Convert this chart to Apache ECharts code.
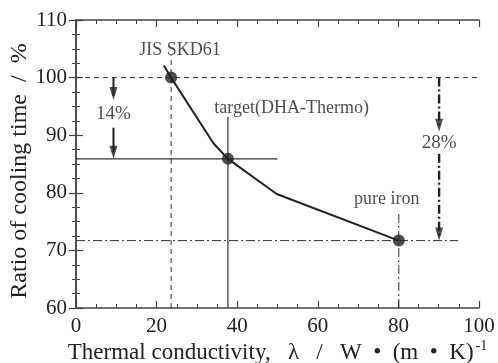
<!DOCTYPE html>
<html><head><meta charset="utf-8">
<script src="https://cdn.jsdelivr.net/npm/echarts@6/dist/echarts.min.js"></script>
<style>html,body{margin:0;padding:0;background:#fff}#c{width:498px;height:363px}</style>
</head><body><div id="c"></div>
<script>
// ---- data ----
const curveX = [21.8, 23.6, 34.1, 37.7, 49.8, 80.1];
const curveY = [102.1, 100, 88.6, 85.9, 79.8, 71.7];
const pointX = [23.6, 37.7, 80.1];
const pointY = [100, 85.9, 71.7];
const pointNames = ['JIS SKD61', 'target(DHA-Thermo)', 'pure iron'];
const nameX = [25.8, 53.5, 77.1];
const nameY = [104.8, 94.6, 78.8];
// reference lines [x1,y1,x2,y2]
const dashedLines = [[0, 100, 100, 100], [23.6, 60, 23.6, 103.9]];
const solidLines = [[0, 85.9, 50, 85.9], [37.7, 60, 37.7, 93.2]];
const dashDotLines = [[0, 71.7, 94.8, 71.7], [80.1, 60, 80.1, 76.6]];
const arrowShafts14 = [[9.3, 100, 9.3, 96.8], [9.3, 91.3, 9.3, 87]];
const arrowShafts28 = [[90.1, 100, 90.1, 91.5], [90.1, 86.8, 90.1, 72.5]];
const arrowTips = [[9.3, 96.1], [9.3, 85.9], [90.1, 90.6], [90.1, 71.7]];
const pctLabels = [[9.3, 93.7, '14%'], [90.1, 88.6, '28%']];
const xTicks = [0, 20, 40, 60, 80, 100];
const yTicks = [60, 70, 80, 90, 100, 110];

const FONT = 'Liberation Serif';
const INK = '#222';
function seg(l, style) {
  return { type: 'line', data: [[l[0], l[1]], [l[2], l[3]]], showSymbol: false, symbol: 'none',
    lineStyle: style, silent: true, z: 2, animation: false };
}
const series = [];
dashedLines.forEach(l => series.push(seg(l, { color: '#333', width: 1, type: [5, 4] })));
solidLines.forEach(l => series.push(seg(l, { color: '#333', width: 1.2, type: 'solid' })));
dashDotLines.forEach(l => series.push(seg(l, { color: '#333', width: 1, type: [9, 3, 2, 3] })));
arrowShafts14.forEach(l => series.push(seg(l, { color: INK, width: 2, type: 'solid' })));
arrowShafts28.forEach(l => series.push(seg(l, { color: INK, width: 2.4, type: [9, 3, 2, 3] })));
series.push({ type: 'line', data: curveX.map((x, i) => [x, curveY[i]]), showSymbol: false, symbol: 'none',
  lineStyle: { color: INK, width: 2 }, z: 3, animation: false });
series.push({ type: 'scatter', data: pointX.map((x, i) => [x, pointY[i]]), symbolSize: 12,
  itemStyle: { color: INK }, z: 4, animation: false });
series.push({ type: 'scatter', data: arrowTips, symbol: 'path://M0,0 L10,0 L5,16 Z', symbolSize: [8, 13],
  symbolOffset: [0, -6.5], itemStyle: { color: INK }, z: 4, animation: false });
series.push({ type: 'scatter', data: nameX.map((x, i) => [x, nameY[i], pointNames[i]]), symbolSize: 0,
  label: { show: true, position: 'inside', formatter: p => p.data[2], fontFamily: FONT, fontSize: 18, color: INK },
  z: 5, animation: false });
series.push({ type: 'scatter', data: pctLabels, symbolSize: 0,
  label: { show: true, position: 'inside', formatter: p => p.data[2], fontFamily: FONT, fontSize: 19, color: INK },
  z: 5, animation: false });

const axisCommon = {
  type: 'value',
  axisLine: { show: true, lineStyle: { color: '#444', width: 1.5 } },
  axisTick: { show: true, inside: true, length: 7, lineStyle: { color: '#444', width: 1.2 } },
  minorTick: { show: true, splitNumber: 4, length: 4, lineStyle: { color: '#444', width: 1 } },
  splitLine: { show: false },
  axisLabel: { fontFamily: FONT, fontSize: 21, color: INK }
};
const option = {
  backgroundColor: '#fff',
  grid: { left: 76, right: 19, top: 20, bottom: 55, containLabel: false, outerBoundsMode: 'none' },
  xAxis: [
    Object.assign({}, axisCommon, { min: xTicks[0], max: xTicks[xTicks.length - 1], interval: 20, position: 'bottom',
      axisLabel: Object.assign({}, axisCommon.axisLabel, { margin: 8 }),
      name: '{a|Thermal conductivity,   λ   /   W  •  (m  •  K)}{s|-1}', nameLocation: 'middle', nameGap: 31,
      nameMoveOverlap: false,
      nameTextStyle: { verticalAlign: 'top', rich: { a: { fontFamily: FONT, fontSize: 23, color: INK }, s: { fontFamily: FONT, fontSize: 14, color: INK, verticalAlign: 'top', padding: [0, 0, 14, 2] } } } }),
    Object.assign({}, axisCommon, { min: xTicks[0], max: xTicks[xTicks.length - 1], interval: 20, position: 'top',
      axisLabel: { show: false } })
  ],
  yAxis: [
    Object.assign({}, axisCommon, { min: yTicks[0], max: yTicks[yTicks.length - 1], interval: 10, position: 'left',
      axisLabel: Object.assign({}, axisCommon.axisLabel, { margin: 9 }),
      name: 'Ratio of cooling time  /  %', nameLocation: 'middle', nameGap: 44, nameMoveOverlap: false,
      nameTextStyle: { fontFamily: FONT, fontSize: 24, color: INK, padding: [0, 14, 0, 0] } }),
    Object.assign({}, axisCommon, { min: yTicks[0], max: yTicks[yTicks.length - 1], interval: 10, position: 'right',
      axisLabel: { show: false } })
  ],
  series: series
};
const chart = echarts.init(document.getElementById('c'), null, { renderer: 'canvas' });
chart.setOption(option);
</script>
</body></html>
